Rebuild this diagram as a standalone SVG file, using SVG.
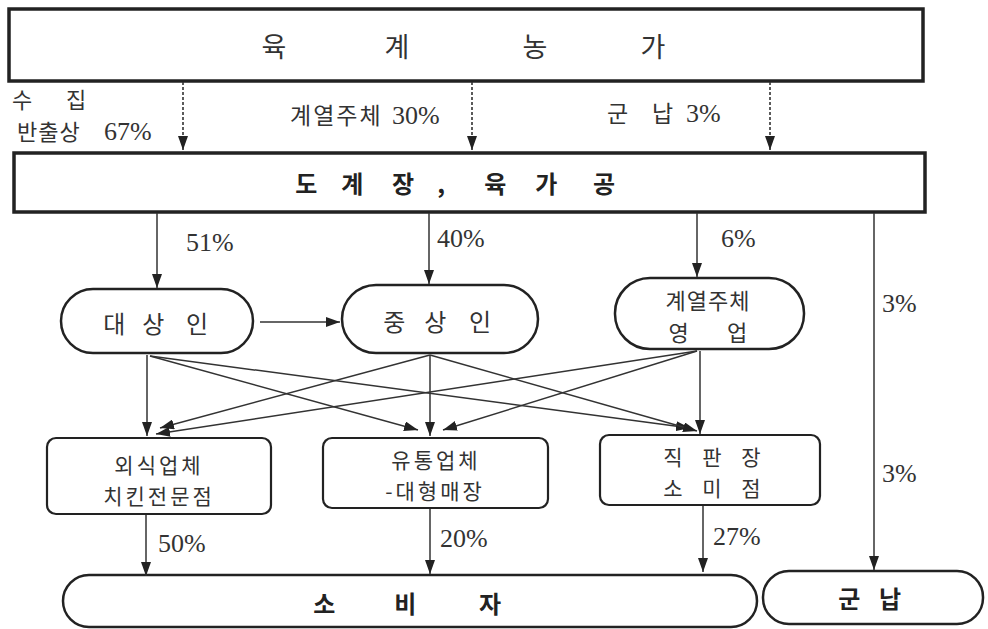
<svg xmlns="http://www.w3.org/2000/svg" width="988" height="629" viewBox="0 0 988 629">
<defs>
<marker id="ah" viewBox="0 0 14 10" markerWidth="14" markerHeight="10" refX="14" refY="5" orient="auto" markerUnits="userSpaceOnUse">
<path d="M0,0 L14,5 L0,10 z" fill="#222"/>
</marker>
<style>
.box{fill:#fff;stroke:#222;stroke-width:3.5}
.stad{fill:#fff;stroke:#222;stroke-width:2.5}
.rb{fill:#fff;stroke:#222;stroke-width:2.2}
.t{font-family:"Liberation Serif","Noto Sans CJK KR",serif;fill:#333}
.k{font-family:"Noto Sans CJK KR","Liberation Sans",sans-serif;fill:#333}
.kb{font-family:"Noto Sans CJK KR","Liberation Sans",sans-serif;font-weight:bold;fill:#222}
.ln{stroke:#333;stroke-width:1.5;fill:none;marker-end:url(#ah)}
.dash{stroke:#333;stroke-width:1.6;fill:none;stroke-dasharray:3 2;marker-end:url(#ah)}
</style>
</defs>
<rect width="988" height="629" fill="#fff"/>

<g id="farm">
<rect class="box" x="9" y="9" width="914" height="72"/>
<text class="k" font-size="27" y="57" text-anchor="middle"><tspan x="277">육</tspan> <tspan x="400">계</tspan> <tspan x="538">농</tspan> <tspan x="653">가</tspan></text>
</g>

<g id="slaughter">
<rect class="box" x="14" y="153" width="911" height="59"/>
<text class="kb" font-size="24" y="193" text-anchor="middle"><tspan x="309">도</tspan> <tspan x="355">계</tspan> <tspan x="403">장</tspan><tspan x="444">,</tspan> <tspan x="498">육</tspan> <tspan x="549">가</tspan> <tspan x="604">공</tspan></text>
</g>

<g id="labels-top">
<text class="k" font-size="22" y="108"><tspan x="12">수</tspan><tspan x="66">집</tspan></text>
<text class="t" font-size="22" x="17" y="140" letter-spacing="1">반출상 <tspan x="104" font-size="26" letter-spacing="0">67%</tspan></text>
<text class="t" font-size="23" x="290" y="124" letter-spacing="2">계열주체<tspan x="392" font-size="26" letter-spacing="0">30%</tspan></text>
<text class="t" font-size="23" y="122"><tspan x="607">군</tspan><tspan x="652">납</tspan> <tspan x="686" font-size="26">3%</tspan></text>
</g>

<g id="daesangin">
<rect class="stad" x="61" y="289" width="192" height="64" rx="32"/>
<text class="k" font-size="24" y="333" text-anchor="middle"><tspan x="117">대</tspan> <tspan x="156">상</tspan> <tspan x="197">인</tspan></text>
</g>
<g id="jungsangin">
<rect class="stad" x="342" y="285" width="196" height="68" rx="34"/>
<text class="k" font-size="24" y="331" text-anchor="middle"><tspan x="397">중</tspan> <tspan x="438">상</tspan> <tspan x="480">인</tspan></text>
</g>
<g id="gyeyeol">
<rect class="stad" x="615" y="278" width="189" height="71" rx="35"/>
<text class="k" font-size="22" x="708" y="309" text-anchor="middle" letter-spacing="1">계열주체</text>
<text class="k" font-size="22" y="341" text-anchor="middle"><tspan x="681">영</tspan> <tspan x="737">업</tspan></text>
</g>

<g id="oesik">
<rect class="rb" x="47" y="438" width="224" height="76" rx="9"/>
<text class="k" font-size="21" x="159" y="473" text-anchor="middle" letter-spacing="3">외식업체</text>
<text class="k" font-size="21" x="159" y="504" text-anchor="middle" letter-spacing="3">치킨전문점</text>
</g>
<g id="yutong">
<rect class="rb" x="323" y="438" width="225" height="70" rx="9"/>
<text class="k" font-size="21" x="436" y="468" text-anchor="middle" letter-spacing="3">유통업체</text>
<text class="k" font-size="21" x="435" y="499" text-anchor="middle" letter-spacing="3">-대형매장</text>
</g>
<g id="jikpan">
<rect class="rb" x="600" y="435" width="220" height="70" rx="9"/>
<text class="k" font-size="21" x="712" y="465" text-anchor="middle" word-spacing="15">직 판 장</text>
<text class="k" font-size="21" x="712" y="496" text-anchor="middle" word-spacing="15">소 미 점</text>
</g>

<g id="consumer">
<rect class="stad" x="63" y="575" width="694" height="52" rx="26" stroke-width="3"/>
<text class="kb" font-size="24" y="613" text-anchor="middle"><tspan x="327">소</tspan> <tspan x="408">비</tspan> <tspan x="490">자</tspan></text>
</g>
<g id="military">
<rect class="stad" x="763" y="571" width="220" height="53" rx="26" stroke-width="3"/>
<text class="kb" font-size="24" y="608" text-anchor="middle"><tspan x="852">군</tspan> <tspan x="890">납</tspan></text>
</g>

<g id="connectors">
<line class="dash" x1="183" y1="82" x2="183" y2="150"/>
<line class="dash" x1="472" y1="82" x2="472" y2="150"/>
<line class="dash" x1="770" y1="82" x2="770" y2="150"/>

<line class="ln" x1="157" y1="213" x2="157" y2="288"/>
<line class="ln" x1="429" y1="213" x2="429" y2="284"/>
<line class="ln" x1="697" y1="213" x2="697" y2="277"/>
<line class="ln" x1="874" y1="213" x2="874" y2="570"/>

<line class="ln" x1="260" y1="322" x2="340" y2="322"/>

<line class="ln" x1="147" y1="355" x2="147" y2="436"/>
<line class="ln" x1="150" y1="356" x2="418" y2="430"/>
<line class="ln" x1="150" y1="356" x2="690" y2="428"/>

<line class="ln" x1="430" y1="355" x2="160" y2="428"/>
<line class="ln" x1="430" y1="355" x2="430" y2="436"/>
<line class="ln" x1="430" y1="355" x2="697" y2="431"/>

<line class="ln" x1="697" y1="351" x2="156" y2="434"/>
<line class="ln" x1="697" y1="351" x2="443" y2="430"/>
<line class="ln" x1="700" y1="351" x2="700" y2="434"/>

<line class="ln" x1="146" y1="515" x2="146" y2="576"/>
<line class="ln" x1="430" y1="509" x2="430" y2="574"/>
<line class="ln" x1="703" y1="506" x2="703" y2="572"/>
</g>

<g id="labels-pct">
<text class="t" font-size="26" x="186" y="251">51%</text>
<text class="t" font-size="26" x="437" y="247">40%</text>
<text class="t" font-size="26" x="721" y="247">6%</text>
<text class="t" font-size="26" x="882" y="312">3%</text>
<text class="t" font-size="26" x="882" y="482">3%</text>
<text class="t" font-size="26" x="158" y="552">50%</text>
<text class="t" font-size="26" x="440" y="547">20%</text>
<text class="t" font-size="26" x="713" y="545">27%</text>
</g>
</svg>
